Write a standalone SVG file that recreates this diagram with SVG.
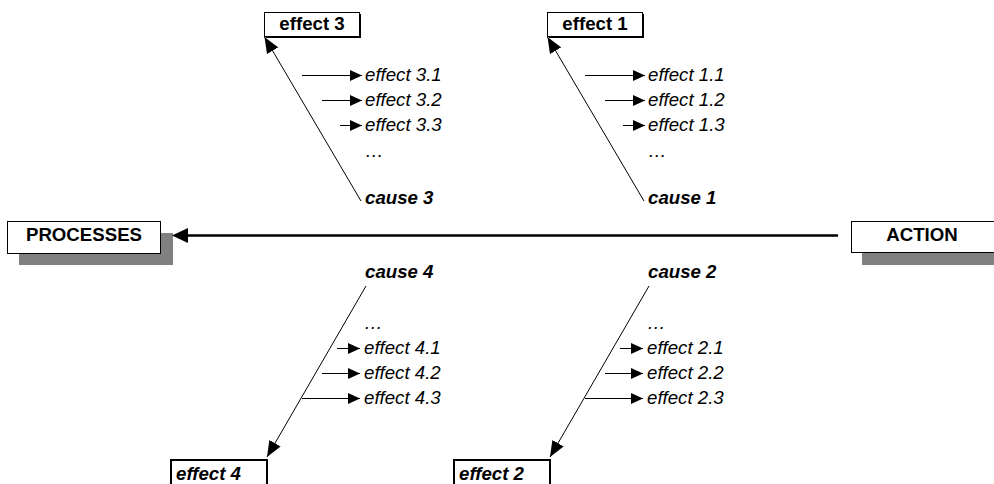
<svg xmlns="http://www.w3.org/2000/svg" width="994" height="484" viewBox="0 0 994 484">
  <style>
    text { font-family: "Liberation Sans", Arial, sans-serif; font-size: 18.67px; fill: #000; }
    .b { font-weight: bold; }
    .i { font-style: italic; }
    .bi { font-weight: bold; font-style: italic; }
    .mid { text-anchor: middle; }
    .box { fill: #fff; stroke: #000; stroke-width: 1; }
    .box2 { fill: #fff; stroke: #000; stroke-width: 2; }
    .shade { fill: #808080; }
    .drop { fill: #000; }
    .thin { stroke: #000; stroke-width: 1; fill: none; }
    .small { marker-end: url(#tip-s); }
    .diag { marker-end: url(#tip-m); }
  </style>
  <defs>
    <marker id="tip-s" markerUnits="userSpaceOnUse" markerWidth="13" markerHeight="12" refX="12" refY="6" orient="auto">
      <path d="M0,0.5 L12,6 L0,11.5 z" fill="#000"/>
    </marker>
    <marker id="tip-m" markerUnits="userSpaceOnUse" markerWidth="17" markerHeight="13" refX="16" refY="6.5" orient="auto">
      <path d="M0,0 L16,6.5 L0,13 z" fill="#000"/>
    </marker>
  </defs>

  <!-- end boxes -->
  <g id="processes">
    <rect class="shade" x="19" y="233" width="154" height="32"/>
    <rect class="box" x="7.5" y="221.5" width="153" height="32"/>
    <text class="b mid" x="84" y="241">PROCESSES</text>
  </g>
  <g id="action">
    <rect class="shade" x="862" y="234" width="140" height="31"/>
    <rect class="box" x="851.5" y="221.5" width="150" height="31"/>
    <text class="b mid" x="922" y="241">ACTION</text>
  </g>

  <!-- upper effect boxes -->
  <g id="effect3">
    <rect class="drop" x="266" y="14" width="95" height="24"/>
    <rect class="box" x="264.5" y="12.5" width="95" height="24"/>
    <text class="b mid" x="312" y="30">effect 3</text>
  </g>
  <g id="effect1">
    <rect class="drop" x="549" y="14" width="95" height="24"/>
    <rect class="box" x="547.5" y="12.5" width="95" height="24"/>
    <text class="b mid" x="595" y="30">effect 1</text>
  </g>

  <!-- lower effect boxes -->
  <g id="effect4">
    <rect class="box2" x="171" y="460" width="96" height="40"/>
    <text class="bi" x="176" y="480">effect 4</text>
  </g>
  <g id="effect2">
    <rect class="box2" x="454" y="460" width="96" height="40"/>
    <text class="bi" x="459" y="480">effect 2</text>
  </g>

  <!-- cause labels and their effect lists -->
  <g id="cause3">
    <text class="bi" x="365" y="204">cause 3</text>
    <text class="i" x="365" y="81">effect 3.1</text>
    <text class="i" x="365" y="106">effect 3.2</text>
    <text class="i" x="365" y="131">effect 3.3</text>
    <text class="i" x="365" y="157">…</text>
  </g>
  <g id="cause1">
    <text class="bi" x="648" y="204">cause 1</text>
    <text class="i" x="648" y="81">effect 1.1</text>
    <text class="i" x="648" y="106">effect 1.2</text>
    <text class="i" x="648" y="131">effect 1.3</text>
    <text class="i" x="648" y="157">…</text>
  </g>
  <g id="cause4">
    <text class="bi" x="365" y="278">cause 4</text>
    <text class="i" x="364" y="329">…</text>
    <text class="i" x="364" y="354">effect 4.1</text>
    <text class="i" x="364" y="379">effect 4.2</text>
    <text class="i" x="364" y="404">effect 4.3</text>
  </g>
  <g id="cause2">
    <text class="bi" x="648" y="278">cause 2</text>
    <text class="i" x="647" y="329">…</text>
    <text class="i" x="647" y="354">effect 2.1</text>
    <text class="i" x="647" y="379">effect 2.2</text>
    <text class="i" x="647" y="404">effect 2.3</text>
  </g>

  <!-- connectors -->
  <g id="connectors">
    <!-- main spine -->
    <line x1="838" y1="235.5" x2="187" y2="235.5" stroke="#000" stroke-width="2.5"/>
    <polygon points="172,235.5 188,228 188,243" fill="#000"/>

    <!-- cause to effect diagonals -->
    <line class="thin diag" x1="361" y1="201" x2="264.5" y2="37"/>
    <line class="thin diag" x1="644" y1="201" x2="547.5" y2="37"/>
    <line class="thin diag" x1="366" y1="286" x2="267" y2="457"/>
    <line class="thin diag" x1="649" y1="286" x2="550" y2="457"/>

    <!-- effect list arrows, upper -->
    <line class="thin small" x1="302" y1="75.5" x2="362" y2="75.5"/>
    <line class="thin small" x1="322" y1="100.5" x2="362" y2="100.5"/>
    <line class="thin small" x1="340" y1="125.5" x2="362" y2="125.5"/>
    <line class="thin small" x1="585" y1="75.5" x2="645" y2="75.5"/>
    <line class="thin small" x1="605" y1="100.5" x2="645" y2="100.5"/>
    <line class="thin small" x1="623" y1="125.5" x2="645" y2="125.5"/>

    <!-- effect list arrows, lower -->
    <line class="thin small" x1="337" y1="348.5" x2="360" y2="348.5"/>
    <line class="thin small" x1="322" y1="373.5" x2="360" y2="373.5"/>
    <line class="thin small" x1="302" y1="398.5" x2="360" y2="398.5"/>
    <line class="thin small" x1="620" y1="348.5" x2="643" y2="348.5"/>
    <line class="thin small" x1="605" y1="373.5" x2="643" y2="373.5"/>
    <line class="thin small" x1="585" y1="398.5" x2="643" y2="398.5"/>
  </g>
</svg>
